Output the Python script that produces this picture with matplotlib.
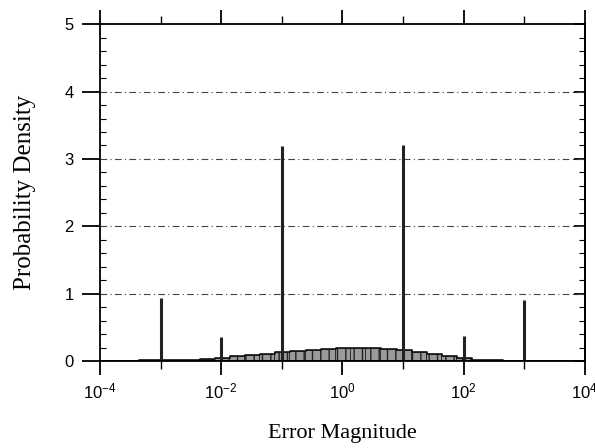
#!/usr/bin/env python3
"""
Probability density of error magnitude: spikes at decades plus a broad low bump.
"""
import numpy as np
import matplotlib
matplotlib.use('Agg')
import matplotlib.pyplot as plt
from matplotlib.ticker import LogLocator, FixedLocator, NullFormatter, MultipleLocator

# ---------- data ----------
spike_x = [1e-3, 1e-2, 1e-1, 1e1, 1e2, 1e3]
spike_h = [0.94, 0.36, 3.19, 3.20, 0.37, 0.91]

# broad component, bin centres in log10 (quarter-decade bins)
bump_log_x = [-3.5, -3.25, -3.0, -2.75, -2.5, -2.25, -2.0, -1.75, -1.5, -1.25,
              -1.0, -0.75, -0.5, -0.25, 0.0, 0.25, 0.5, 0.75, 1.0, 1.25,
              1.5, 1.75, 2.0, 2.25, 2.5, 2.75]
bump_h = [0.0, 0.01, 0.01, 0.02, 0.02, 0.03, 0.05, 0.07, 0.09, 0.11,
          0.13, 0.15, 0.17, 0.18, 0.19, 0.20, 0.20, 0.18, 0.16, 0.13,
          0.10, 0.07, 0.04, 0.02, 0.01, 0.005]

x_ticks = [1e-4, 1e-2, 1e0, 1e2, 1e4]
x_ticklabels = ['$10^{-4}$', '$10^{-2}$', '$10^{0}$', '$10^{2}$', '$10^{4}$']
y_ticks = [0, 1, 2, 3, 4, 5]

# ---------- style ----------
matplotlib.rcParams.update({
    'font.family': 'Liberation Serif',
    'mathtext.fontset': 'custom',
    'mathtext.rm': 'Liberation Sans',
    'mathtext.it': 'Liberation Sans',
    'axes.linewidth': 1.3,
})

fig = plt.figure(figsize=(5.95, 4.48), dpi=100)
ax = fig.add_axes([0.168, 0.194, 0.815, 0.752])
ax.set_xscale('log')
ax.set_xlim(1e-4, 1e4)
ax.set_ylim(0, 5)

# grid
for yv in [1, 2, 3, 4]:
    ax.axhline(yv, color='#444444', lw=0.8, ls=(0, (6, 3, 1, 3)), zorder=1)

# broad bump as narrow hatched bars
centres = 10 ** np.array(bump_log_x)
left = 10 ** (np.array(bump_log_x) - 0.125)
widths = 10 ** (np.array(bump_log_x) + 0.125) - left
ax.bar(left, bump_h, width=widths, align='edge', color='#9a9a9a',
       edgecolor='#222222', linewidth=0.6, hatch='||', zorder=2)
ax.plot(centres, bump_h, color='#111111', lw=1.2, drawstyle='steps-mid', zorder=3)

# spikes
ax.vlines(spike_x, 0, spike_h, color='#222222', lw=2.2, zorder=4)

ax.axhline(0, color='black', lw=1.3, zorder=5)

# ticks
ax.xaxis.set_major_locator(FixedLocator(x_ticks))
ax.set_xticklabels(x_ticklabels, fontsize=12, family='Liberation Sans')
ax.xaxis.set_minor_locator(LogLocator(base=10, numticks=20))
ax.xaxis.set_minor_formatter(NullFormatter())
ax.yaxis.set_major_locator(FixedLocator(y_ticks))
ax.yaxis.set_minor_locator(MultipleLocator(0.2))
ax.set_yticklabels([str(v) for v in y_ticks], fontsize=12, family='Liberation Sans')

ax.tick_params(axis='x', which='major', direction='out', length=10, width=1.3,
               top=True, bottom=True, pad=5)
ax.tick_params(axis='x', which='minor', direction='out', length=6, width=1.0,
               top=True, bottom=True)
ax.tick_params(axis='y', which='major', direction='out', length=13, width=1.3,
               left=True, right=False, pad=6)
ax.tick_params(axis='y', which='minor', direction='in', length=4, width=0.8,
               left=True, right=False)

# right-hand ticks point inward
ax_r = ax.secondary_yaxis('right')
ax_r.yaxis.set_major_locator(FixedLocator(y_ticks))
ax_r.yaxis.set_minor_locator(MultipleLocator(0.2))
ax_r.tick_params(which='major', direction='in', length=8, width=1.3, labelright=False)
ax_r.tick_params(which='minor', direction='in', length=4, width=0.8)

ax.set_xlabel('Error Magnitude', fontsize=16, labelpad=16)
ax.set_ylabel('Probability Density', fontsize=18, labelpad=20)

plt.savefig('out.png', dpi=100, facecolor='white')
plt.close()
